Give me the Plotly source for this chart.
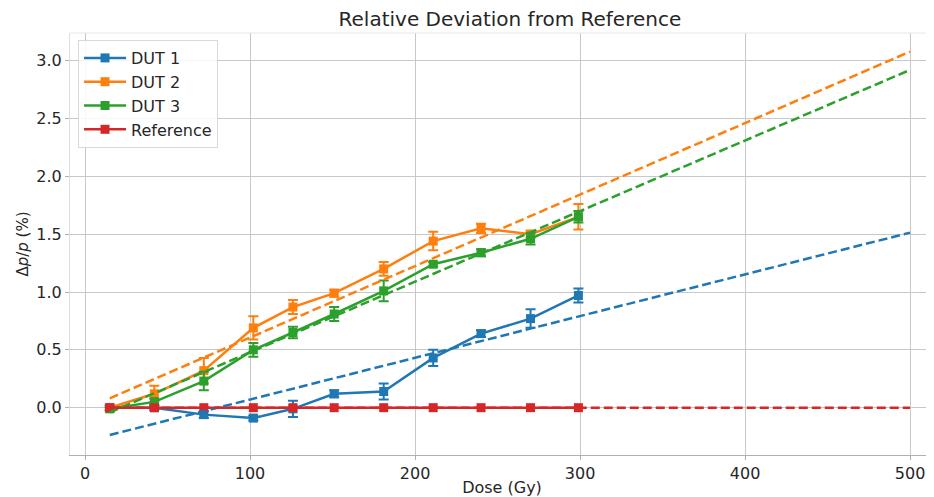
import plotly.graph_objects as go

# ---- data ----
dose = [15, 42, 72, 102, 126, 151, 181, 211, 240, 270, 299]

dut1 = [0.00, 0.00, -0.06, -0.09, -0.01, 0.12, 0.14, 0.43, 0.64, 0.77, 0.97]
dut1_err = [0.02, 0.02, 0.03, 0.02, 0.07, 0.03, 0.07, 0.07, 0.03, 0.08, 0.06]

dut2 = [0.00, 0.12, 0.32, 0.69, 0.87, 0.99, 1.20, 1.44, 1.55, 1.50, 1.65]
dut2_err = [0.02, 0.07, 0.11, 0.10, 0.06, 0.03, 0.06, 0.08, 0.04, 0.03, 0.11]

dut3 = [-0.01, 0.05, 0.23, 0.50, 0.65, 0.81, 1.01, 1.24, 1.34, 1.46, 1.65]
dut3_err = [0.02, 0.03, 0.08, 0.06, 0.05, 0.06, 0.09, 0.02, 0.03, 0.05, 0.05]

ref = [0.00] * 11
ref_err = [0.0] * 11

# linear fit endpoints (dashed lines)
fit_x = [15, 500]
fit_dut1 = [-0.236, 1.513]
fit_dut2 = [0.081, 3.078]
fit_dut3 = [-0.04, 2.92]
fit_ref = [0.0, 0.0]

names = ["DUT 1", "DUT 2", "DUT 3", "Reference"]
colors = ["#1f77b4", "#ff7f0e", "#2ca02c", "#d62728"]

series = [(dut1, dut1_err), (dut2, dut2_err), (dut3, dut3_err), (ref, ref_err)]
fits = [fit_dut1, fit_dut2, fit_dut3, fit_ref]

fig = go.Figure()

for i, (vals, errs) in enumerate(series):
    fig.add_trace(go.Scatter(
        x=dose, y=vals, name=names[i], mode="lines+markers",
        legendgroup=names[i],
        line=dict(color=colors[i], width=2.5),
        marker=dict(symbol="square", size=9, color=colors[i]),
        error_y=dict(type="data", array=errs, visible=True,
                     color=colors[i], thickness=2, width=5),
    ))

for i, fv in enumerate(fits):
    fig.add_trace(go.Scatter(
        x=fit_x, y=fv, mode="lines", showlegend=False,
        line=dict(color=colors[i], width=2.5, dash="9px,4px"),
        hoverinfo="skip",
    ))

font_fam = "DejaVu Sans, Arial, sans-serif"

# The page body has an 8px default margin, so the figure is sized/offset to fit.
fig.update_layout(
    width=926, height=489,
    margin=dict(l=62, r=0, t=25, b=42, autoexpand=False),
    paper_bgcolor="white", plot_bgcolor="white",
    font=dict(family=font_fam, size=16, color="#262626"),
    title=dict(text="Relative Deviation from Reference",
               x=0.542, xref="container", xanchor="center",
               y=0.977, yref="container", yanchor="middle",
               font=dict(size=20, color="#262626")),
    legend=dict(x=0.0093, y=0.9834, xanchor="left", yanchor="top",
                bgcolor="rgba(255,255,255,0.85)", bordercolor="#d9d9d9",
                borderwidth=1, font=dict(size=16), itemwidth=42,
                traceorder="normal", tracegroupgap=4),
    showlegend=True,
)

fig.update_xaxes(
    range=[-9.1, 514.5], tickvals=[0, 100, 200, 300, 400, 500],
    automargin=False,
    showgrid=True, gridcolor="#c8c8c8", gridwidth=1,
    zeroline=False, showline=True, linecolor="#b0b0b0", linewidth=1,
    ticks="outside", ticklen=4, tickcolor="#b0b0b0",
    tickfont=dict(size=16, color="#262626"),
    title=dict(text="Dose (Gy)", font=dict(size=16), standoff=2),
)
fig.update_yaxes(
    range=[-0.409, 3.239], tickvals=[0, 0.5, 1.0, 1.5, 2.0, 2.5, 3.0],
    ticktext=["0.0", "0.5", "1.0", "1.5", "2.0", "2.5", "3.0"],
    automargin=False,
    showgrid=True, gridcolor="#c8c8c8", gridwidth=1,
    zeroline=False, showline=True, linecolor="#dddddd", linewidth=1,
    ticks="outside", ticklen=4, tickcolor="#b0b0b0",
    tickfont=dict(size=16, color="#262626"),
    title=dict(text="Δ<i>p</i>/<i>p</i> (%)", font=dict(size=15), standoff=4),
)

fig.add_shape(type="line", xref="paper", yref="paper", x0=0, x1=1, y0=1, y1=1,
              line=dict(color="#e6e6e6", width=1))

fig.write_html("out.html")
